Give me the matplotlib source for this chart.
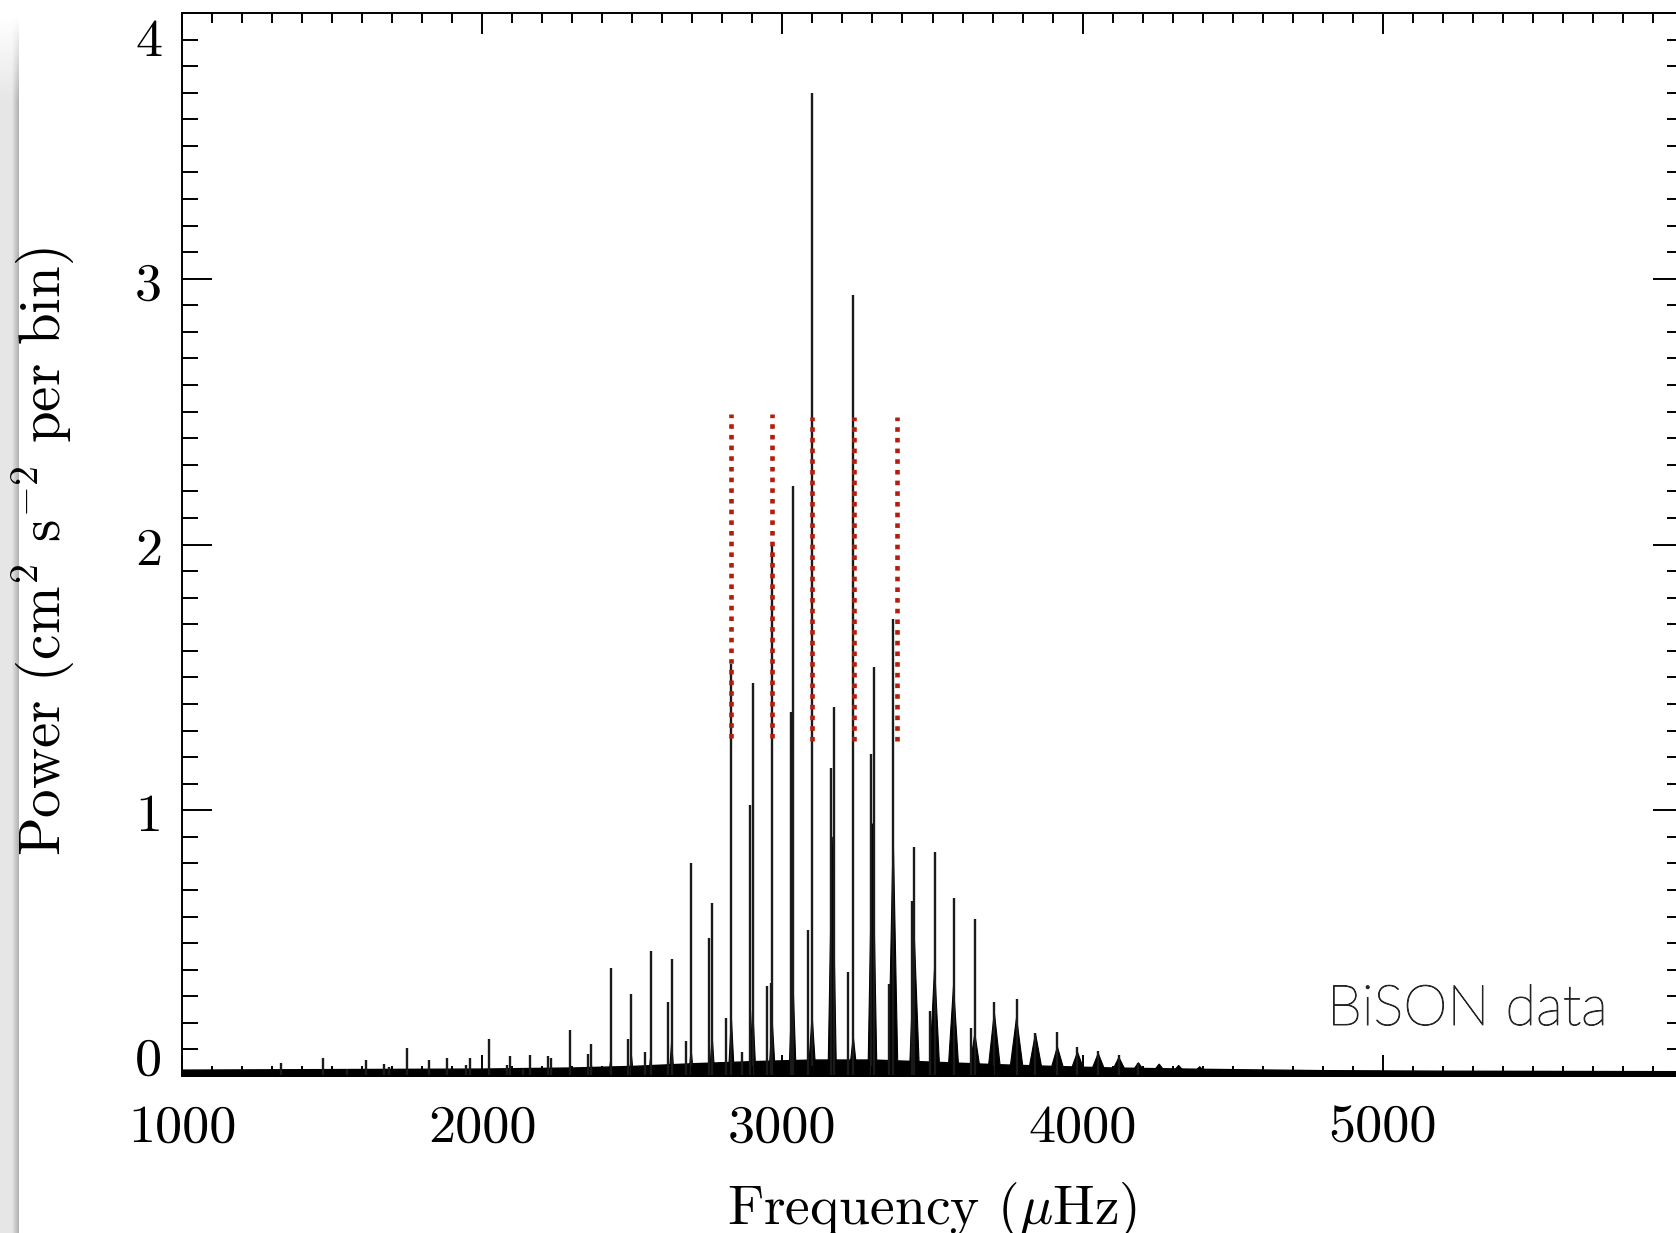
import numpy as np
import matplotlib.pyplot as plt
import matplotlib.patheffects as pe
from matplotlib.ticker import MultipleLocator
from matplotlib.transforms import blended_transform_factory, offset_copy

plt.rcParams['font.family'] = 'cmr10'
plt.rcParams['mathtext.fontset'] = 'cm'
plt.rcParams['axes.formatter.use_mathtext'] = True

# ---------------- DATA ----------------
# narrow spikes: frequency (uHz) and peak power
spike_freq = [1330, 1471, 1549, 1613, 1674, 1688, 1749, 1823, 1883, 1946, 1959,
              2021, 2082, 2093, 2137, 2158, 2218, 2230, 2294, 2352, 2363,
              2428, 2486, 2497, 2542, 2561, 2620, 2631, 2679, 2696, 2757, 2766,
              2812, 2830, 2867, 2891, 2901, 2949, 2962, 2966, 3027, 3034, 3086,
              3099, 3162, 3171, 3218, 3236, 3296, 3304, 3356, 3369, 3432, 3440,
              3491, 3507, 3570, 3628, 3641, 3706, 3780, 3843, 3916, 3983, 4052,
              4121, 4186]
spike_power = [0.05, 0.069, 0.025, 0.059, 0.046, 0.034, 0.107, 0.06, 0.067, 0.04, 0.067,
               0.14, 0.04, 0.074, 0.026, 0.079, 0.075, 0.069, 0.173, 0.084, 0.119,
               0.405, 0.14, 0.31, 0.09, 0.47, 0.28, 0.44, 0.13, 0.80, 0.52, 0.65,
               0.22, 1.55, 0.09, 1.02, 1.48, 0.34, 0.35, 2.00, 1.37, 2.22, 0.55,
               3.70, 1.16, 1.39, 0.39, 2.94, 1.21, 1.54, 0.345, 1.72, 0.66, 0.86,
               0.245, 0.844, 0.668, 0.18, 0.59, 0.28, 0.29, 0.16, 0.165, 0.11, 0.094,
               0.08, 0.05]

# broad mode profiles: centre, height, half width at the base (uHz)
base_freq = [2294, 2363, 2428, 2497, 2561, 2631, 2696, 2766, 2830, 2901, 2966,
             3034, 3099, 3166, 3236, 3300, 3369, 3440, 3507, 3570, 3641, 3706,
             3780, 3843, 3916, 3983, 4052, 4121, 4186, 4255, 4320, 4390]
base_power = [0.04, 0.05, 0.06, 0.08, 0.07, 0.13, 0.10, 0.15, 0.22, 0.26, 0.21,
              0.40, 0.23, 0.90, 0.15, 0.95, 0.91, 0.51, 0.41, 0.34, 0.16, 0.24,
              0.22, 0.16, 0.11, 0.09, 0.085, 0.07, 0.05, 0.045, 0.04, 0.035]
base_halfwidth = [6, 6, 7, 7, 7, 8, 8, 9, 10, 11, 11,
                  12, 13, 14, 14, 15, 16, 17, 18, 19, 21, 23,
                  25, 26, 28, 29, 30, 31, 31, 31, 31, 31]

# background noise floor
bg_freq = [1000, 1500, 2000, 2300, 2500, 2700, 2900, 3100, 3300, 3500, 3700,
           3900, 4100, 4400, 4800, 5200, 6000]
bg_power = [0.024, 0.026, 0.028, 0.032, 0.038, 0.048, 0.056, 0.062, 0.062, 0.054, 0.045,
            0.038, 0.032, 0.027, 0.022, 0.02, 0.018]

# red dotted markers
red_freq = [2830, 2964, 3098, 3240, 3382]
red_low = [1.27, 1.27, 1.26, 1.26, 1.26]
red_high = [2.49, 2.49, 2.48, 2.48, 2.48]

xtick_vals = [1000, 2000, 3000, 4000, 5000, 6000]
xtick_labels = ['1000', '2000', '3000', '4000', '5000', '']
ytick_vals = [0, 1, 2, 3, 4]
ytick_labels = ['0', '1', '2', '3', '4']
ylabel_shift = [-19, 3, 3, 3, 25]   # px, labels nudged like in the original

# ---------------- PLOT ----------------
W, H = 1676, 1233
fig = plt.figure(figsize=(W / 100, H / 100), dpi=100)

# slide shadow on the left edge (drawn first, underneath everything)
sax = fig.add_axes([0, 0, 19 / W, 1])
sax.set_zorder(-1)
ys = np.arange(H)[:, None]
xs = np.arange(19)[None, :]
shade = np.where(xs < 12, 0.9, 0.88 - (xs - 12) / 6 * 0.18)
fade = np.clip((ys - 15) / 85, 0, 1)
sax.imshow(1 - (1 - shade) * fade, cmap='gray', vmin=0, vmax=1, aspect='auto',
           interpolation='bilinear')
sax.axis('off')

ax = fig.add_axes([182 / W, 1 - 1076 / H, 1501 / W, 1063 / H])
ax.patch.set_alpha(0)

ax.fill_between(bg_freq, 0, bg_power, color='black', lw=1.0, zorder=1)
for f, h, w in zip(base_freq, base_power, base_halfwidth):
    ax.fill([f - w, f, f + w], [0, h, 0], color='black', lw=0.8, zorder=1)
ax.vlines(spike_freq, 0, spike_power, colors='#1a1a1a', lw=1.7, zorder=2)
ax.vlines(red_freq, red_low, red_high, colors='#b41d0c', lw=3.3,
          linestyles=(0, (1, 1.33)), zorder=3)

ax.set_xlim(1000, 6000)
ax.set_ylim(0, 4)
ax.set_axisbelow(False)

ax.set_xticks(xtick_vals)
ax.set_xticklabels(xtick_labels)
ax.xaxis.set_minor_locator(MultipleLocator(100))
ax.set_yticks(ytick_vals)
ax.yaxis.set_minor_locator(MultipleLocator(0.1))
ax.tick_params(axis='both', which='both', direction='in', top=True, right=True,
               width=1.4, color='black')
ax.tick_params(axis='x', which='major', length=15, pad=20.7, labelsize=39)
ax.tick_params(axis='x', which='minor', length=7.2)
ax.tick_params(axis='y', which='major', length=21.6, labelleft=False)
ax.tick_params(axis='y', which='minor', length=11.3)
for s in ax.spines.values():
    s.set_linewidth(1.4)

# y tick labels placed by hand (0 and 4 sit inside the frame)
blend = blended_transform_factory(ax.transAxes, ax.transData)
for v, lab, dy in zip(ytick_vals, ytick_labels, ylabel_shift):
    tr = offset_copy(blend, fig=fig, x=-20, y=-(dy + 17.5), units='dots')
    ax.text(0, v, lab, transform=tr, ha='right', va='baseline', fontsize=39)

ax.set_xlabel(r'Frequency ($\mu$Hz)', fontsize=40)
ax.xaxis.set_label_coords(0.5, -0.0975)
ax.set_ylabel(r'Power (cm$^2$ s$^{-2}$ per bin)', fontsize=41)
ax.yaxis.set_label_coords(-0.0705, 0.493)

fig.text(1327 / W, 1 - 1025 / H, 'BiSON data', fontsize=40.5, family='Lato',
         weight='light', color='#262626', ha='left', va='baseline',
         path_effects=[pe.withStroke(linewidth=0.7, foreground='#262626')])

fig.savefig('out.png', dpi=100)
